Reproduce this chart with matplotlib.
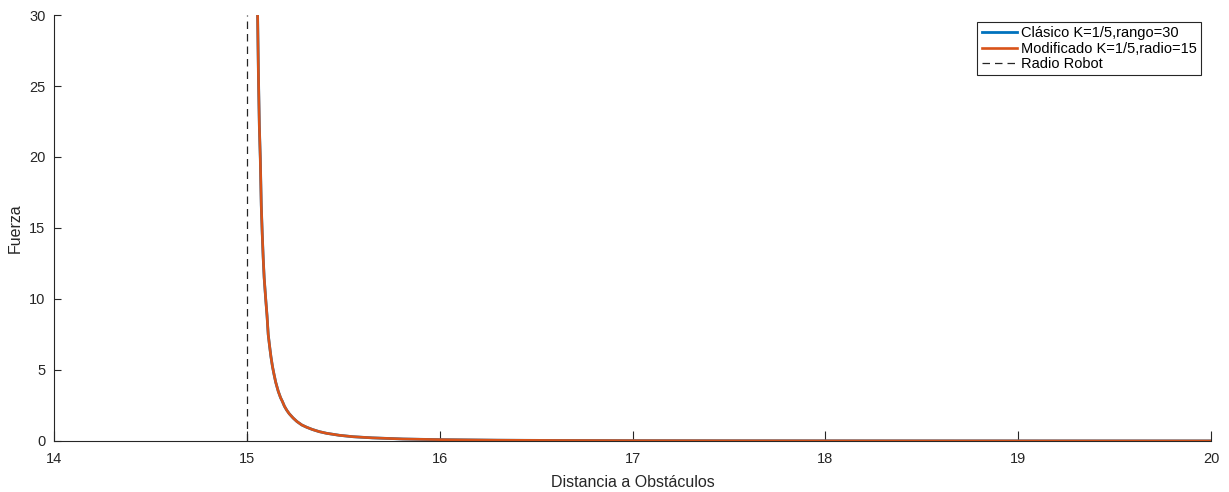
import matplotlib
matplotlib.use("Agg")
import matplotlib.pyplot as plt

plt.rcParams['font.family'] = ['Liberation Sans', 'DejaVu Sans']

# curve values (both series overlap)
distancia = [15.052, 15.056, 15.060, 15.065, 15.070, 15.075, 15.080, 15.085, 15.090,
             15.098, 15.105, 15.111, 15.118, 15.125, 15.133, 15.141, 15.150, 15.163,
             15.175, 15.184, 15.195, 15.207, 15.220, 15.240, 15.260, 15.285, 15.310,
             15.340, 15.375, 15.414, 15.480, 15.551, 15.650, 15.810, 16.000, 16.300,
             16.600, 17.000, 17.500, 18.000, 18.500, 19.000, 19.500, 20.000]
fuerza_clasico = [34.0, 30.0, 26.0, 22.2, 19.9, 16.6, 14.6, 12.9, 11.5,
                  10.0, 8.8, 7.5, 6.7, 5.95, 5.25, 4.7, 4.13, 3.5,
                  3.05, 2.8, 2.45, 2.17, 1.92, 1.62, 1.37, 1.13, 0.97,
                  0.81, 0.66, 0.54, 0.40, 0.30, 0.22, 0.14, 0.093, 0.055,
                  0.036, 0.023, 0.015, 0.0105, 0.0078, 0.006, 0.0047, 0.0038]
fuerza_modificado = [34.0, 30.0, 26.0, 22.2, 19.9, 16.6, 14.6, 12.9, 11.5,
                     10.0, 8.8, 7.5, 6.7, 5.95, 5.25, 4.7, 4.13, 3.5,
                     3.05, 2.8, 2.45, 2.17, 1.92, 1.62, 1.37, 1.13, 0.97,
                     0.81, 0.66, 0.54, 0.40, 0.30, 0.22, 0.14, 0.093, 0.055,
                     0.036, 0.023, 0.015, 0.0105, 0.0078, 0.006, 0.0047, 0.0038]
radio_robot = 15
x_ticks = [14, 15, 16, 17, 18, 19, 20]
y_ticks = [0, 5, 10, 15, 20, 25, 30]

fig = plt.figure(figsize=(12.29, 4.92), dpi=100)
ax = fig.add_axes([0.0439, 0.1037, 0.9415, 0.8658])

ax.plot(distancia, fuerza_clasico, color='#0072BD', lw=2.0,
        label='Clásico K=1/5,rango=30')
ax.plot(distancia, fuerza_modificado, color='#D95319', lw=1.9,
        label='Modificado K=1/5,radio=15')
ax.axvline(radio_robot, color='#262626', lw=0.9, ls=(0, (6, 4)),
           label='Radio Robot')

ax.set_xlim(14, 20)
ax.set_ylim(0, 30)
ax.set_xticks(x_ticks)
ax.set_yticks(y_ticks)
ax.set_xlabel('Distancia a Obstáculos', fontsize=11.5, color='#262626', labelpad=6.5)
ax.set_ylabel('Fuerza', fontsize=11.5, color='#262626', labelpad=5)

for s in ['top', 'right']:
    ax.spines[s].set_visible(False)
for s in ['left', 'bottom']:
    ax.spines[s].set_color('#262626')
    ax.spines[s].set_linewidth(0.8)
ax.tick_params(axis='x', direction='in', length=7.5, width=0.8, colors='#262626',
               labelsize=10.5, pad=8)
ax.tick_params(axis='y', direction='in', length=5, width=0.8, colors='#262626',
               labelsize=10.5, pad=6)

leg = ax.legend(loc='upper right', bbox_to_anchor=(0.9915, 0.984), fontsize=10.5,
                frameon=True, fancybox=False, framealpha=1, borderpad=0.3,
                labelspacing=0.1, handlelength=2.4, handletextpad=0.3,
                borderaxespad=0)
leg.get_frame().set_edgecolor('#262626')
leg.get_frame().set_linewidth(0.8)

fig.savefig('out.png', dpi=100)
